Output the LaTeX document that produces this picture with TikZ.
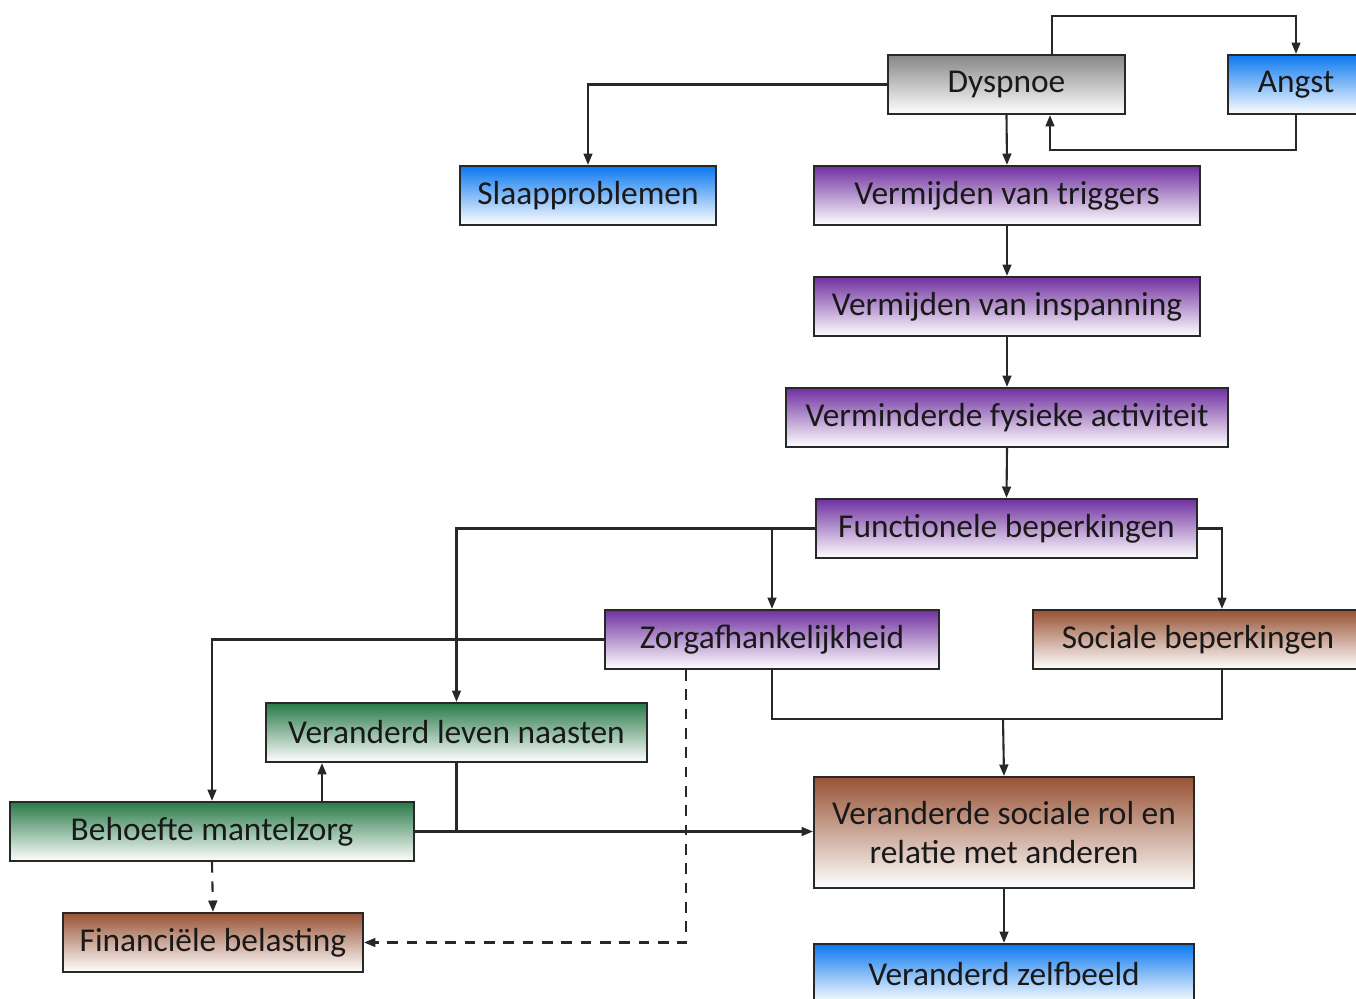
\documentclass[tikz,border=0pt]{standalone}
\usepackage{fontspec}
\setmainfont{Carlito}
\usetikzlibrary{calc,arrows.meta}
\definecolor{dyspgray}{RGB}{135,135,135}
\definecolor{angstblue}{RGB}{10,120,240}
\definecolor{zorgpurple}{RGB}{112,48,160}
\definecolor{naastgreen}{RGB}{40,122,72}
\definecolor{socbrown}{RGB}{152,82,52}
\definecolor{linegray}{RGB}{40,40,40}
\tikzset{
	box/.style={draw=linegray, line width=1.2pt, rectangle, minimum height=1.18cm, inner sep=0pt, bottom color=white, text=black!90, font=\fontsize{19pt}{22pt}\selectfont},
	graybox/.style={box, top color=dyspgray},
	bluebox/.style={box, top color=angstblue},
	purplebox/.style={box, top color=zorgpurple},
	greenbox/.style={box, top color=naastgreen},
	brownbox/.style={box, top color=socbrown},
	link/.style={draw=linegray, line width=1.2pt, -{Triangle[length=6.5pt,width=5pt]}},
	joint/.style={draw=linegray, line width=1.2pt},
	dlink/.style={link, dashed, dash pattern=on 6pt off 5pt}
}

\begin{document}
\begin{tikzpicture}[x=0.02cm, y=-0.02cm]
			%%%%% START %%%%%
			\useasboundingbox (0,0) rectangle (1356,999);
			
			\node[graybox, minimum width=4.74cm] (dys) at (1006.5,84.5) {Dyspnoe};
			\node[bluebox, minimum width=2.72cm] (angst) at (1296,84.5) {Angst};
			\node[bluebox, minimum width=5.12cm] (slaap) at (588,195.5) {Slaapproblemen};
			
			\node[purplebox, minimum width=7.72cm] (trig) at (1007,195.5) {Vermijden van triggers};
			\node[purplebox, minimum width=7.72cm] (insp) at (1007,306.5) {Vermijden van inspanning};
			\node[purplebox, minimum width=8.84cm] (verm) at (1007,417.5) {Verminderde fysieke activiteit};
			\node[purplebox, minimum width=7.62cm] (func) at (1006.5,528.5) {Functionele beperkingen};
			\node[purplebox, minimum width=6.68cm] (zorg) at (772,639.5) {Zorgafhankelijkheid};
			\node[brownbox, minimum width=6.6cm] (soc) at (1198,639.5) {Sociale beperkingen};
			
			\node[greenbox, minimum width=7.62cm] (lev) at (456.5,732.5) {Veranderd leven naasten};
			\node[greenbox, minimum width=8.08cm] (beh) at (212,831.5) {Behoefte mantelzorg};
			\node[brownbox, minimum width=6.0cm] (fin) at (213,942.5) {Financiële belasting};
			
			\node[brownbox, minimum width=7.6cm, minimum height=2.22cm, align=center] (rol) at (1004,832.5) {Veranderde sociale rol en\\relatie met anderen};
			\node[bluebox, minimum width=7.6cm] (zelf) at (1004,973.5) {Veranderd zelfbeeld};
			
			% bends
			\coordinate (up) at (1052,16);
			\coordinate (back) at (1050,150);
			\coordinate (socx) at (1222,0);
			\coordinate (mid) at (1003,719);
			\coordinate (levx) at (322,0);
			\coordinate (dashx) at (686,0);
			
			\draw[link] (dys.north -| up) -- (up) -| (angst.north);
			\draw[link] (angst.south) |- (back) -- (back |- dys.south);
			\draw[link] (dys.west) -| (slaap.north);
			
			\draw[link] (dys.south) -- (trig.north);
			\draw[link] (trig.south) -- (insp.north);
			\draw[link] (insp.south) -- (verm.north);
			\draw[link] (verm.south) -- (func.north);
			
			\draw[link] (func.west) -| (lev.north);
			\draw[link] (zorg.north |- func.west) -- (zorg.north);
			\draw[link] (func.east) -| (soc.north -| socx);
			
			\draw[link] (zorg.west) -| (beh.north);
			\draw[joint] (zorg.south) |- (mid) -| (soc.south -| socx);
			\draw[link] (mid) -- (rol.north);
			
			\draw[link] (beh.north -| levx) -- (lev.south -| levx);
			\draw[joint] (lev.south) -- (lev.south |- beh.east);
			\draw[link] (beh.east) -- (beh.east -| rol.west);
			
			\draw[dlink] (beh.south) -- (fin.north);
			\draw[dlink] (zorg.south -| dashx) |- (fin.east);
			
			\draw[link] (rol.south) -- (zelf.north);
			
			%%%%% END %%%%%
		\end{tikzpicture}
\end{document}
